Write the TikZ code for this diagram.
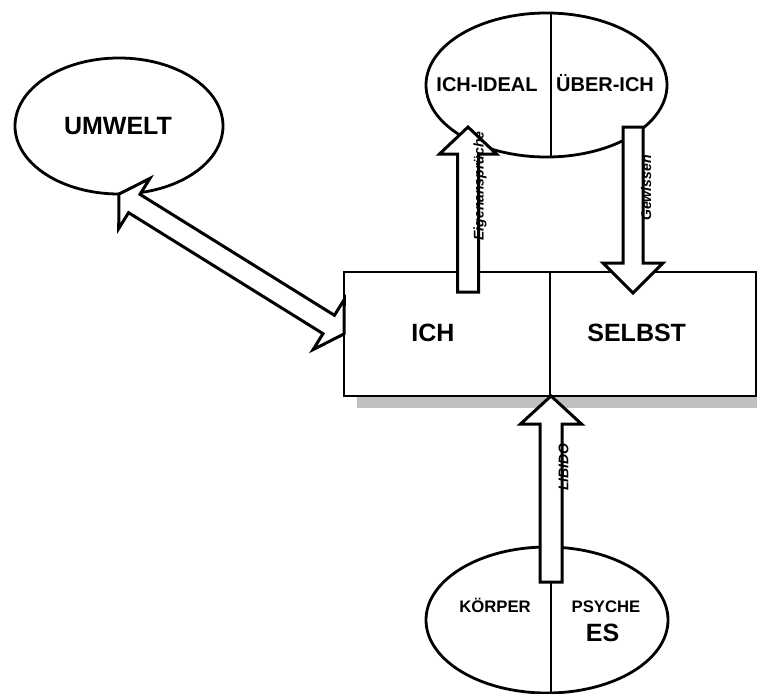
\documentclass[tikz,border=0pt]{standalone}
\usepackage{fontspec}
\setmainfont{Liberation Sans}
\usetikzlibrary{calc,shapes.geometric}
\definecolor{shadowgray}{HTML}{C0C0C0}
\tikzset{
  outline/.style={draw=black, line width=2.8pt, fill=white, inner sep=0pt, outer sep=0pt},
  divider/.style={draw=black, line width=2.2pt},
  blockarrow/.style={draw=black, line width=3pt, fill=white, line join=miter},
  bigtext/.style={font=\bfseries\fontsize{25}{30}\selectfont, inner sep=0pt, anchor=base},
  midtext/.style={font=\bfseries\fontsize{20}{24}\selectfont, inner sep=0pt, anchor=base},
  smalltext/.style={font=\bfseries\fontsize{16.7}{20}\selectfont, inner sep=0pt, anchor=base},
  flowlabel/.style={font=\bfseries\itshape\fontsize{14}{17}\selectfont, inner sep=0pt, rotate=90},
}
% block arrow with one head: #1 tail, #2 tip, #3 half shaft width, #4 half head width, #5 head length
\newcommand\fatarrow[5]{%
  \coordinate (fa-base) at ($(#2)!#5!(#1)$);
  \draw[blockarrow] ($(#1)!#3!90:(#2)$) -- ($(fa-base)!#3!-90:(#1)$)
    -- ($(fa-base)!#4!-90:(#1)$) -- (#2) -- ($(fa-base)!#4!90:(#1)$)
    -- ($(fa-base)!#3!90:(#1)$) -- ($(#1)!#3!-90:(#2)$) -- cycle;
}
% block arrow with heads at both ends #1 and #2
\newcommand\fatdoublearrow[5]{%
  \coordinate (fd-a) at ($(#1)!#5!(#2)$);
  \coordinate (fd-b) at ($(#2)!#5!(#1)$);
  \draw[blockarrow] (#1) -- ($(fd-a)!#4!90:(#2)$) -- ($(fd-a)!#3!90:(#2)$)
    -- ($(fd-b)!#3!-90:(#1)$) -- ($(fd-b)!#4!-90:(#1)$) -- (#2)
    -- ($(fd-b)!#4!90:(#1)$) -- ($(fd-b)!#3!90:(#1)$)
    -- ($(fd-a)!#3!-90:(#2)$) -- ($(fd-a)!#4!-90:(#2)$) -- cycle;
}
\begin{document}
\begin{tikzpicture}[x=1pt,y=-1pt]
\useasboundingbox (0,0) rectangle (757,693);
\clip (0,0) rectangle (757,693);
\fill[white] (0,0) rectangle (757,693);

% ICH / SELBST box with its shadow
\fill[shadowgray] (357,284) rectangle (770,408);
\node[outline, rectangle, minimum width=412pt, minimum height=124pt] (ego) at (550,334) {};
\draw[divider] (ego.north) -- (ego.south);
\node[bigtext] (ich) at (433,341) {ICH};
\node[bigtext] (selbst) at (636.7,341) {SELBST};

% Umwelt
\node[outline, ellipse, minimum width=208pt, minimum height=136pt] (umwelt) at (119,126) {};
\node[bigtext] (umwelttext) at (118,134) {UMWELT};

% Ich-Ideal / Über-Ich
\node[outline, ellipse, minimum width=241pt, minimum height=144pt] (ideale) at (546.5,85) {};
\draw[divider] ([xshift=4.5pt]ideale.north) -- ([xshift=4.5pt]ideale.south);
\node[midtext] (ichideal) at (487,92) {ICH-IDEAL};
\node[midtext] (ueberich) at (605,92) {ÜBER-ICH};

% Es: Körper / Psyche
\node[outline, ellipse, minimum width=242pt, minimum height=146pt] (es) at (547,620) {};
\draw[divider] ([xshift=4pt]es.north) -- ([xshift=4pt]es.south);
\node[smalltext] (koerper) at (495,612.5) {KÖRPER};
\node[smalltext] (psyche) at (606,612.5) {PSYCHE};
\node[bigtext] (estext) at (602.5,641) {ES};

% connecting block arrows
\coordinate (eigen-from) at (468,292);
\coordinate (eigen-to) at (468,127);
\coordinate (gew-from) at (633,127);
\coordinate (gew-to) at (633,293);
\coordinate (lib-from) at (551,582);
\coordinate (lib-to) at (551,396);
\fatarrow{eigen-from}{eigen-to}{10.5pt}{28.5pt}{27pt}
\fatarrow{gew-from}{gew-to}{10pt}{30pt}{30pt}
\fatarrow{lib-from}{lib-to}{11pt}{30.5pt}{28pt}
\fatdoublearrow{umwelt.south}{ego.west}{10.8pt}{29.5pt}{18pt}

% arrow labels
\node[flowlabel] (eigenlabel) at (480,186) {Eigenansprüche};
\node[flowlabel] (gewlabel) at (646,188) {Gewissen};
\node[flowlabel] (liblabel) at (563.5,467) {LIBIDO};
\end{tikzpicture}
\end{document}
